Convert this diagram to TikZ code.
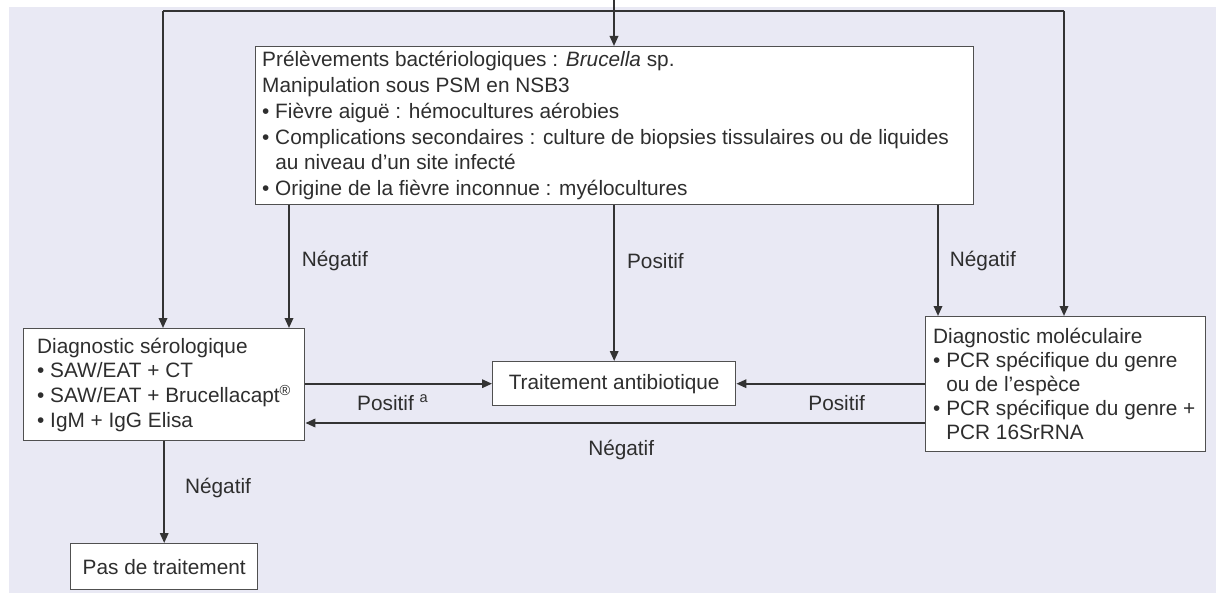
\documentclass[tikz,border=0pt]{standalone}
\usepackage{fontspec}
\setmainfont{Liberation Sans}
\usetikzlibrary{arrows.meta}
\definecolor{bgc}{HTML}{E9E9F4}
\definecolor{linec}{HTML}{333333}
\definecolor{boxc}{HTML}{505050}
\definecolor{txtc}{HTML}{2E2E2E}
\newcommand\fsA{\fontsize{20.8}{25.8}\selectfont}
\newcommand\fsB{\fontsize{20.8}{24.7}\selectfont}
\newcommand\fsC{\fontsize{20.8}{24}\selectfont}
\begin{document}
\begin{tikzpicture}[x=1pt,y=-1pt,
 box/.style={draw=boxc, line width=1.4pt, fill=white, inner sep=0pt},
 txt/.style={text=txtc, font=\fsA, inner sep=0pt, align=left},
 arr/.style={draw=linec, line width=1.8pt, -{Triangle[length=10pt,width=8.5pt]}},
 ln/.style={draw=linec, line width=1.8pt},
 lab/.style={text=txtc, font=\fsA, inner sep=0pt}]
\useasboundingbox (0,0) rectangle (1216,599);
\fill[white] (0,0) rectangle (1216,599);
\fill[bgc] (9,7) rectangle (1216,593);

% boxes
\node[box, anchor=north west, minimum width=718pt, minimum height=158pt] (prel) at (255,46) {};
\node[txt, font=\fsA, anchor=west] (preltxt) at ([xshift=7pt]prel.west) {Prélèvements bactériologiques : \textit{Brucella} sp.\\
Manipulation sous PSM en NSB3\\
• Fièvre aiguë : hémocultures aérobies\\
• Complications secondaires : culture de biopsies tissulaires ou de liquides\\
\phantom{• }au niveau d'un site infecté\\
• Origine de la fièvre inconnue : myélocultures};

\node[box, anchor=north west, minimum width=281pt, minimum height=112pt] (sero) at (23,328) {};
\node[txt, font=\fsB, anchor=west] (serotxt) at ([xshift=14pt]sero.west) {Diagnostic sérologique\\
• SAW/EAT + CT\\
• SAW/EAT + Brucellacapt\textsuperscript{®}\\
• IgM + IgG Elisa};

\node[box, anchor=north west, minimum width=280pt, minimum height=135pt] (mol) at (925,316) {};
\node[txt, font=\fsC, anchor=west] (moltxt) at ([xshift=8pt]mol.west) {Diagnostic moléculaire\\
• PCR spécifique du genre\\
\phantom{• }ou de l’espèce\\
• PCR spécifique du genre +\\
\phantom{• }PCR 16SrRNA};

\node[box, txt, anchor=north west, minimum width=243pt, minimum height=44pt] (trt) at (492,361) {Traitement antibiotique};
\node[box, txt, anchor=north west, minimum width=187pt, minimum height=46pt] (pas) at (70,543) {Pas de traitement};

% coordinates
\coordinate (top0) at (614,0);
\coordinate (tl) at (163,11);
\coordinate (tr) at (1064,11);
\coordinate (xneg) at (289,0);
\coordinate (xneg2) at (938,0);
\coordinate (yneg) at (0,423);

% connectors
\draw[ln] (tl) -- (tr);
\draw[arr] (top0) -- (top0 |- prel.north);
\draw[arr] (tl) -- (tl |- sero.north);
\draw[arr] (tr) -- (tr |- mol.north);
\draw[arr] (xneg |- prel.south) -- (xneg |- sero.north) node[lab, pos=0.45, anchor=west, xshift=12pt] {Négatif};
\draw[arr] (prel.south -| trt.north) -- (trt.north) node[lab, pos=0.36, anchor=west, xshift=12pt] {Positif};
\draw[arr] (xneg2 |- prel.south) -- (xneg2 |- mol.north) node[lab, pos=0.5, anchor=west, xshift=11pt] {Négatif};
\draw[arr] (sero.east |- trt.west) -- (trt.west) node[lab, midway, xshift=-6pt, yshift=-19pt] {Positif \textsuperscript{a}};
\draw[arr] (mol.west |- trt.east) -- (trt.east) node[lab, midway, xshift=6pt, yshift=-19pt] {Positif};
\draw[arr] (mol.west |- yneg) -- (sero.east |- yneg) node[lab, midway, xshift=6pt, yshift=-27pt] {Négatif};
\draw[arr] (sero.south -| pas.north) -- (pas.north) node[lab, pos=0.46, anchor=west, xshift=20pt] {Négatif};
\end{tikzpicture}
\end{document}
